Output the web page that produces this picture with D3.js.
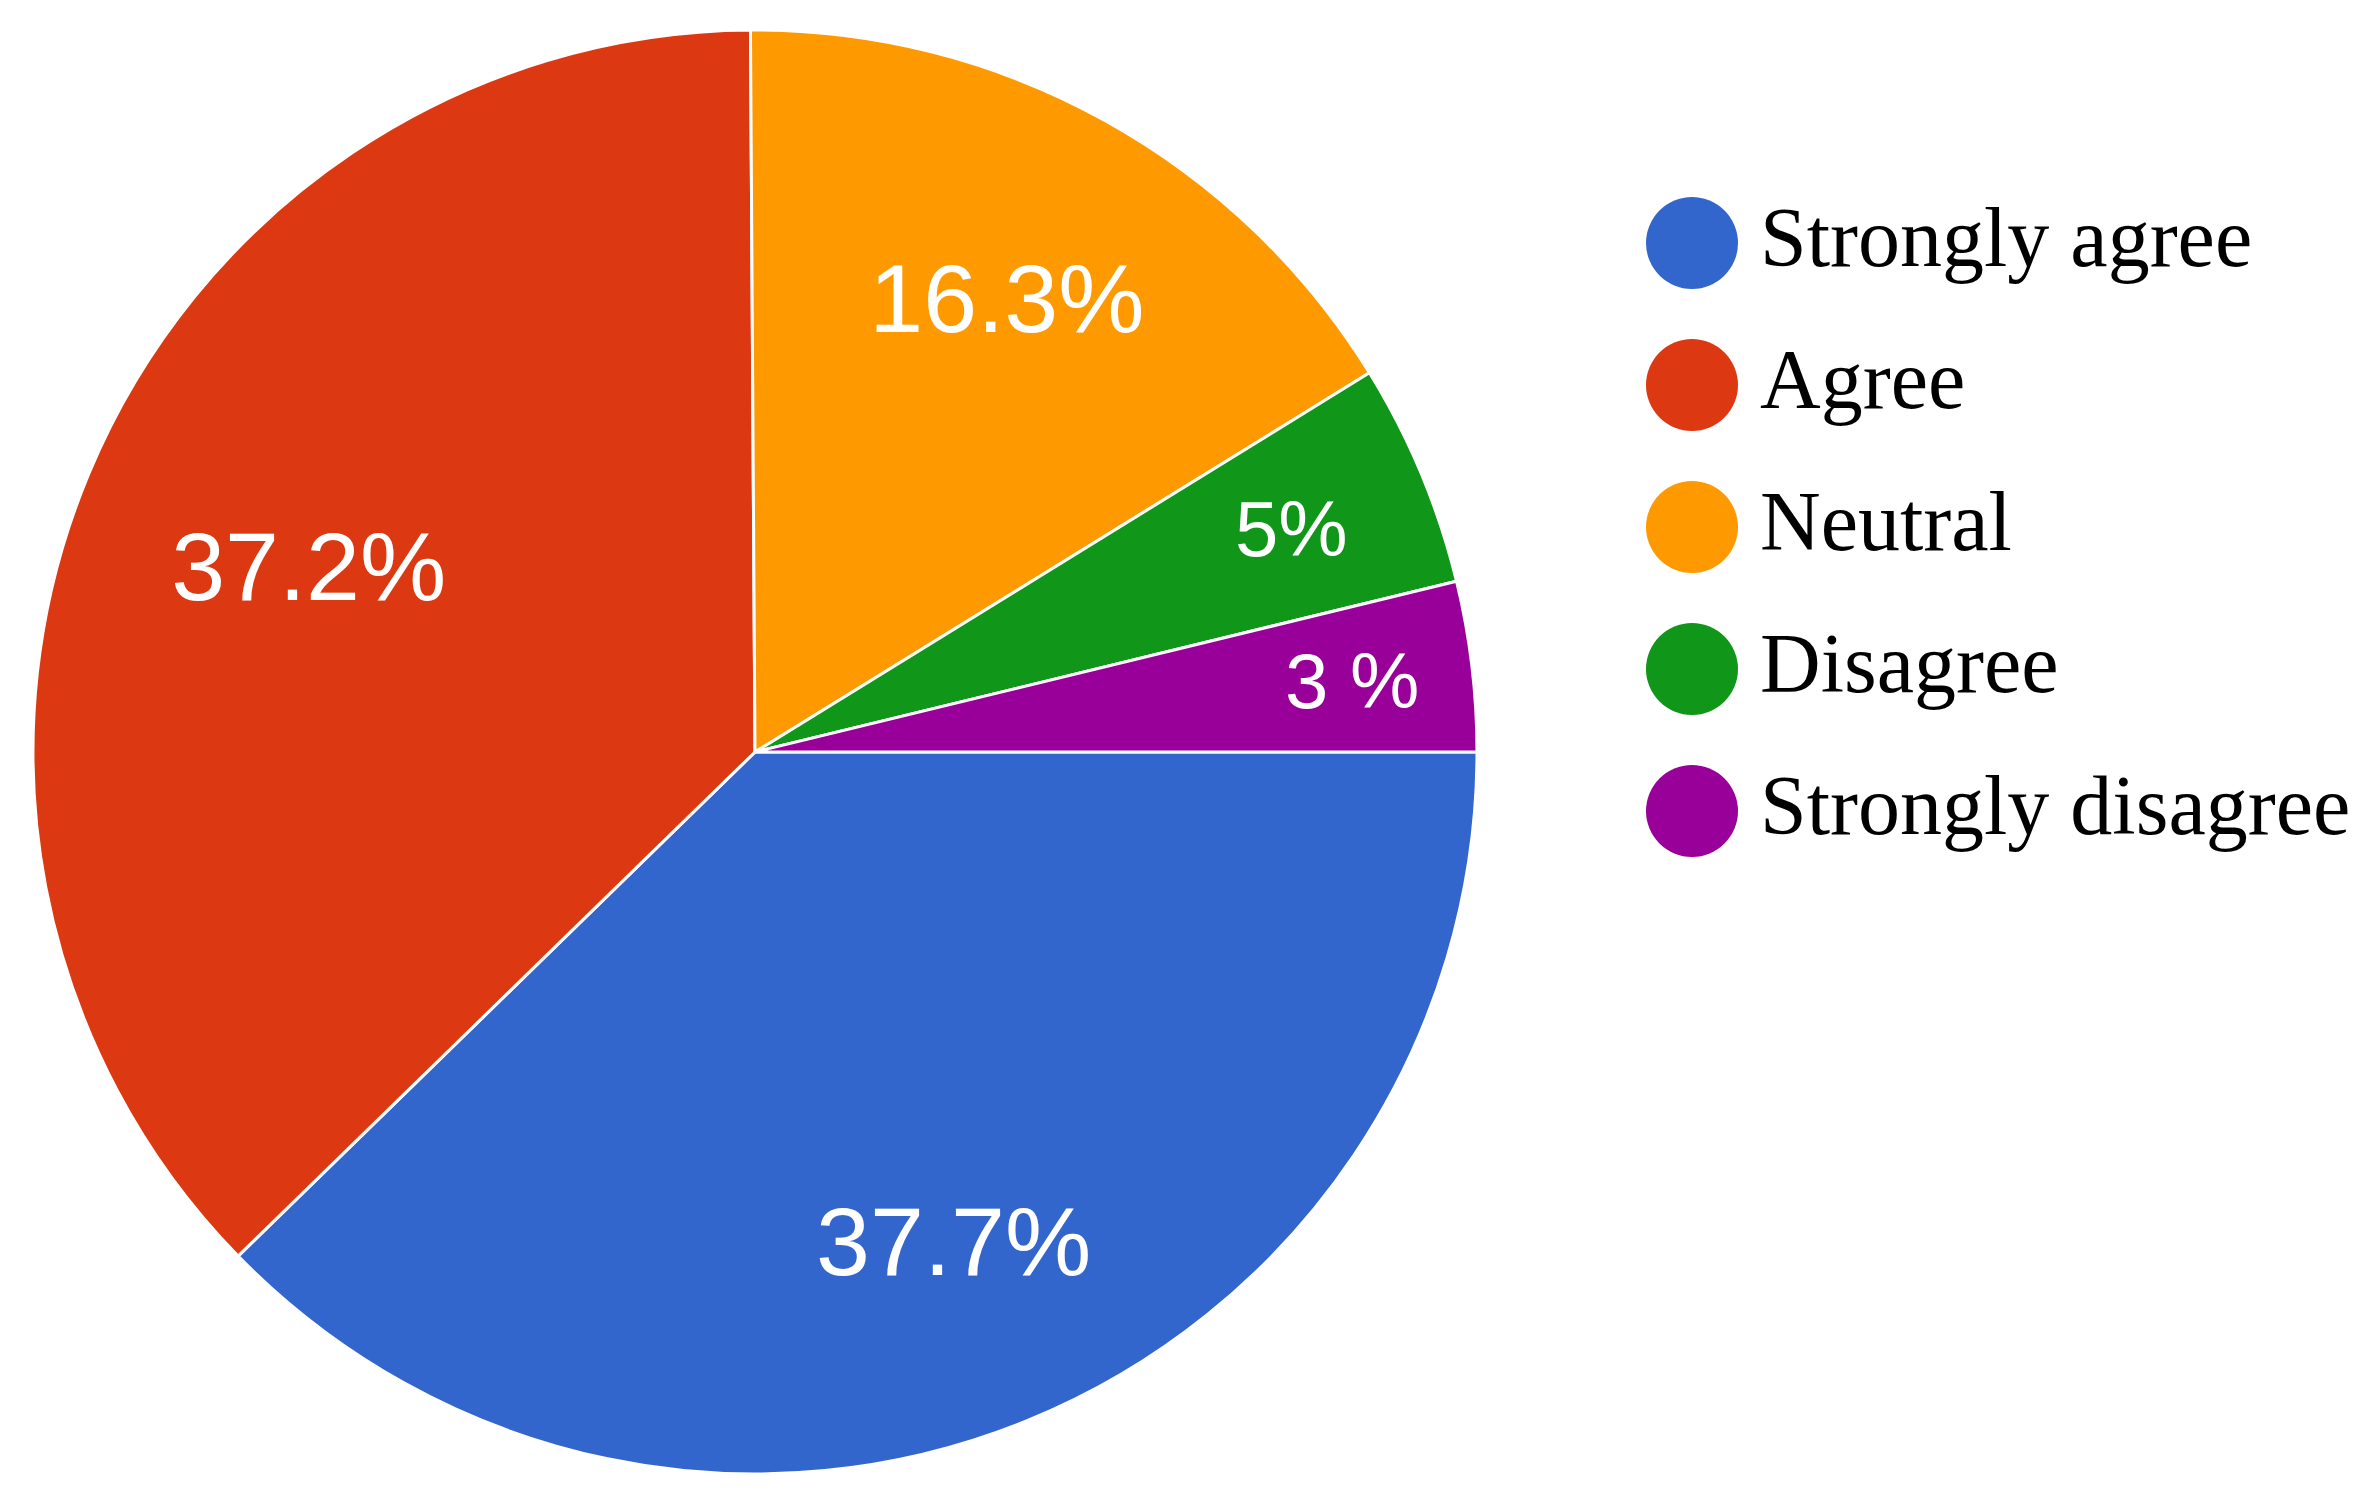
<!DOCTYPE html>
<html>
<head>
<meta charset="utf-8">
<script src="https://cdn.jsdelivr.net/npm/d3@7"></script>
<style>
  html, body { margin: 0; padding: 0; background: #fff; }
  svg { display: block; }
</style>
</head>
<body>
<svg id="chart" width="2371" height="1501"></svg>
<script>
// answers, in the order google draws them (clockwise from 3 o'clock)
var categories = ['Strongly agree', 'Agree', 'Neutral', 'Disagree', 'Strongly disagree'];
var shares = [37.7, 37.2, 16.3, 5, 3.8];
var shareLabels = ['37.7%', '37.2%', '16.3%', '5%', '3 %'];
var colors = ['#3366cc', '#dc3912', '#ff9900', '#109618', '#990099'];

// layout
var W = 2371, H = 1501;
var cx = 755, cy = 752, R = 722;
var labelPos = [0.73, 0.67, 0.72, 0.805, 0.833]; // fraction of radius where google put each label

var svg = d3.select('#chart');

var color = d3.scaleOrdinal().domain(categories).range(colors);

var pie = d3.pie()
    .sort(null)
    .value(function(d) { return d.value; })
    .startAngle(Math.PI / 2)
    .endAngle(Math.PI / 2 + 2 * Math.PI);

var rows = categories.map(function(c, i) {
    return { name: c, value: shares[i], label: shareLabels[i], idx: i };
});

var arcs = pie(rows);
var arc = d3.arc().innerRadius(0).outerRadius(R);

var g = svg.append('g').attr('transform', 'translate(' + cx + ',' + cy + ')');

g.selectAll('.slice')
    .data(arcs)
    .enter().append('path')
    .attr('class', 'slice')
    .attr('d', arc)
    .attr('fill', function(d) { return color(d.data.name); })
    .attr('stroke', '#fff')
    .attr('stroke-width', 3)
    .attr('stroke-linejoin', 'round');

g.selectAll('.pct')
    .data(arcs)
    .enter().append('text')
    .attr('class', 'pct')
    .attr('transform', function(d) {
        var r = R * labelPos[d.data.idx];
        var p = d3.arc().innerRadius(r).outerRadius(r).centroid(d);
        return 'translate(' + p[0] + ',' + p[1] + ')';
    })
    .attr('text-anchor', 'middle')
    .attr('dy', '0.36em')
    .attr('fill', '#fff')
    .style('font-family', '"Liberation Sans", Arial, sans-serif')
    .style('font-size', function(d) {
        // thin slices got a smaller label
        return (d.endAngle - d.startAngle) < 0.4 ? '78px' : '97px';
    })
    .text(function(d) { return d.data.label; });

// legend on the right
var legY = d3.scalePoint().domain(categories).range([243, 811]);

var leg = svg.selectAll('.leg')
    .data(categories)
    .enter().append('g')
    .attr('class', 'leg')
    .attr('transform', function(d) { return 'translate(1692,' + legY(d) + ')'; });

leg.append('circle')
    .attr('r', 46)
    .attr('fill', function(d) { return color(d); });

leg.append('text')
    .attr('x', 68)
    .attr('y', 23)
    .attr('fill', '#000')
    .style('font-family', '"Liberation Serif", "Times New Roman", serif')
    .style('font-size', '84px')
    .text(function(d) { return d; });
</script>
</body>
</html>
